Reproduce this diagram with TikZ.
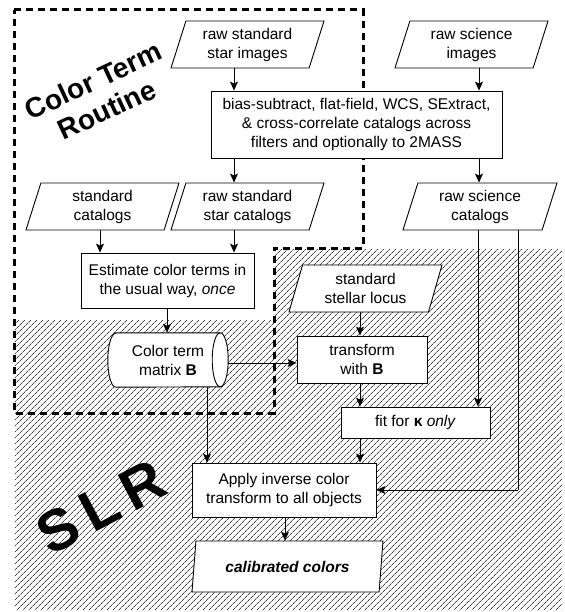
\documentclass[tikz,border=0pt]{standalone}
\usepackage{fontspec}
\setmainfont{Liberation Sans}
\usetikzlibrary{shapes.geometric,arrows.meta,patterns.meta,backgrounds}
\begin{document}
\begin{tikzpicture}[x=1pt,y=1pt,
  base/.style={draw=black, line width=0.9pt, fill=white, font=\fontsize{15.5}{19}\selectfont, align=center, inner sep=0pt},
  box/.style={base, rectangle},
  data/.style={base, trapezium, trapezium left angle=66, trapezium right angle=114, trapezium stretches body, minimum height=47pt, minimum width=153pt},
  cyltext/.style={font=\fontsize{15.5}{19}\selectfont, align=center, inner sep=0pt, minimum width=120pt, minimum height=54pt},
  cylshape/.style={draw=black, line width=0.9pt, fill=white},
  arr/.style={line width=0.8pt, -{Stealth[length=9pt,width=8pt,inset=2pt]}},
  link/.style={line width=0.8pt},
  routine/.style={line width=3pt, dash pattern=on 7pt off 5pt},
  hatch/.style={pattern={Lines[angle=45,distance=4pt,line width=0.8pt]}, pattern color=black!75},
  big/.style={font=\fontsize{28}{32}\selectfont\bfseries, align=center}
]
\useasboundingbox (0,0) rectangle (564,-612);

% nodes
\node[data] (rsi) at (247.5,-44.5) {raw standard\\star images};
\node[data] (rsci) at (471.5,-44.5) {raw science\\images};
\node[box, minimum width=291pt, minimum height=67pt] (proc) at (356.5,-124.5)
  {bias-subtract, flat-field, WCS, SExtract,\\\& cross-correlate catalogs across\\filters and optionally to 2MASS};
\node[data] (stdcat) at (102.5,-206.5) {standard\\catalogs};
\node[data] (rssc) at (247.5,-206.5) {raw standard\\star catalogs};
\node[data, minimum width=154pt] (rscc) at (480,-206.5) {raw science\\catalogs};
\node[box, minimum width=173pt, minimum height=55pt] (est) at (167.5,-280.5)
  {Estimate color terms in\\the usual way, \textit{once}};
\node[cyltext] (cyl) at (168,-360) {Color term\\matrix \textbf{B}};
\node[data] (locus) at (365.5,-288.5) {standard\\stellar locus};
\node[box, minimum width=130pt, minimum height=47pt] (trans) at (362,-359.5) {transform\\with \textbf{B}};
\node[box, minimum width=149pt, minimum height=31pt] (fit) at (415.5,-422.5) {fit for \textbf{κ} \textit{only}};
\node[box, minimum width=184pt, minimum height=54pt] (apply) at (284,-490)
  {Apply inverse color\\transform to all objects};
\node[data, trapezium left angle=71, trapezium right angle=109, minimum width=191pt, minimum height=51pt] (calib) at (287.5,-566.5)
  {\textbf{\textit{calibrated colors}}};

\node[big, rotate=25] (ctr) at (100,-95) {Color Term\\Routine};
\node[font=\fontsize{58}{58}\selectfont\bfseries, rotate=28, inner sep=0pt] (slr) at (101,-507) {S\hspace{10pt}L\hspace{10pt}R};

% helper coordinates
\coordinate (xa) at (234,0);
\coordinate (xb) at (479,0);
\coordinate (xc) at (100,0);
\coordinate (xd) at (167,0);
\coordinate (xe) at (207,0);
\coordinate (xf) at (360,0);
\coordinate (xg) at (478,0);
\coordinate (xh) at (518,0);
\coordinate (xi) at (285,0);
\coordinate (yc) at (0,-363);
\coordinate (corner) at (518,-490);

\begin{pgfonlayer}{background}
\path[hatch] (15,-320) -- (274,-320) -- (274,-249) -- (562,-249) -- (562,-610) -- (15,-610) -- cycle;

% cylinder body
\draw[cylshape] ([xshift=8pt]cyl.north west) -- ([xshift=-8pt]cyl.north east)
  arc[start angle=90, end angle=-90, x radius=8pt, y radius=27pt]
  -- ([xshift=8pt]cyl.south west)
  arc[start angle=270, end angle=90, x radius=8pt, y radius=27pt] -- cycle;
\draw[cylshape, fill=none] ([xshift=-8pt]cyl.north east)
  arc[start angle=90, end angle=270, x radius=8pt, y radius=27pt];

\draw[arr] (rsi.south -| xa) -- (proc.north -| xa);
\draw[arr] (rsci.south -| xb) -- (proc.north -| xb);
\draw[arr] (proc.south -| xa) -- (rssc.north -| xa);
\draw[arr] (proc.south -| xb) -- (rscc.north -| xb);
\draw[arr] (stdcat.south -| xc) -- (est.north -| xc);
\draw[arr] (rssc.south -| xa) -- (est.north -| xa);
\draw[arr] (est.south -| xd) -- (cyl.north -| xd);
\draw[arr] (cyl.east |- yc) -- (trans.west |- yc);
\draw[arr] (cyl.south -| xe) -- (apply.north -| xe);
\draw[arr] (locus.south -| xf) -- (trans.north -| xf);
\draw[arr] (trans.south -| xf) -- (fit.north -| xf);
\draw[arr] (fit.south -| xf) -- (apply.north -| xf);
\draw[arr] (rscc.south -| xg) -- (fit.north -| xg);
\draw[link] (rscc.south -| xh) -- (corner);
\draw[arr] (corner) -- (apply.east |- corner);
\draw[arr] (apply.south -| xi) -- (calib.north -| xi);

\draw[routine] (14,-10) -- (363,-10) -- (363,-248) -- (274,-248) -- (274,-413) -- (14,-413) -- cycle;
\end{pgfonlayer}
\end{tikzpicture}
\end{document}
